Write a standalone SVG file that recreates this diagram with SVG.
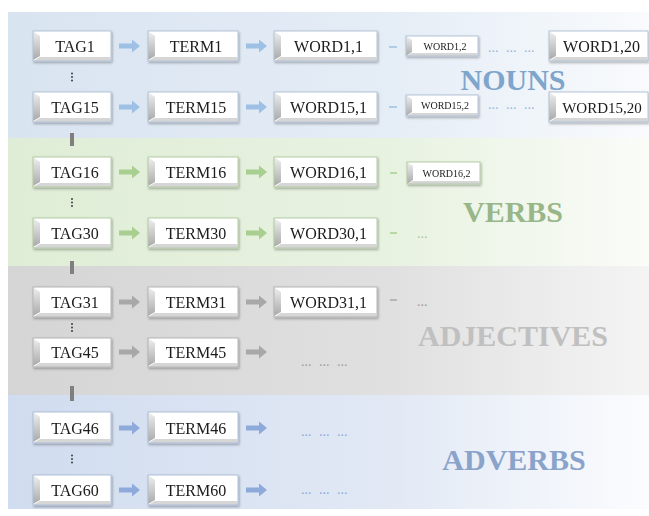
<svg xmlns="http://www.w3.org/2000/svg" xmlns:xlink="http://www.w3.org/1999/xlink" width="649" height="516" viewBox="0 0 649 516">
<style>
.t{font-family:"Liberation Serif","Times New Roman",serif;font-size:16px;fill:#1a1a1a;text-anchor:middle}
.ts{font-family:"Liberation Serif","Times New Roman",serif;font-size:10px;fill:#1a1a1a;text-anchor:middle}
.lab{font-family:"Liberation Serif","Times New Roman",serif;font-size:30px;font-weight:bold;text-anchor:middle}
.dots{font-family:"Liberation Serif","Times New Roman",serif;font-size:14px;word-spacing:4px}
.face{fill:#ffffff}
.bl{fill:url(#gBev)}
.bb{fill:#d6d6d6}
.edge{fill:none;stroke-width:1}
.n .edge{stroke:#b3c4d8}
.v .edge{stroke:#b4cda6}
.j .edge{stroke:#b5b5b5}
.d .edge{stroke:#b0bfd8}
.node{filter:url(#sh)}
.an{fill:#9dc0e4}
.av{fill:#a8cf8f}
.aj{fill:#a8a8a8}
.ad{fill:#8eaadb}
.dn{stroke:#9dc0e4;stroke-width:1.5}
.dv{stroke:#a8cf8f;stroke-width:1.5}
.dj{stroke:#9a9a9a;stroke-width:1.2}
.bar{fill:#7f7f7f}
.vd{fill:#404040}
</style>
<defs>
<linearGradient id="gN" x1="0" y1="0" x2="1" y2="0"><stop offset="0" stop-color="#d9e4f1"/><stop offset="0.6" stop-color="#e5edf6"/><stop offset="1" stop-color="#f9fbfd"/></linearGradient>
<linearGradient id="gV" x1="0" y1="0" x2="1" y2="0"><stop offset="0" stop-color="#dfedd6"/><stop offset="0.6" stop-color="#e8f2e1"/><stop offset="1" stop-color="#fafcf8"/></linearGradient>
<linearGradient id="gJ" x1="0" y1="0" x2="1" y2="0"><stop offset="0" stop-color="#d5d5d5"/><stop offset="0.6" stop-color="#e0e0e0"/><stop offset="1" stop-color="#f4f4f4"/></linearGradient>
<linearGradient id="gD" x1="0" y1="0" x2="1" y2="0"><stop offset="0" stop-color="#d0dcef"/><stop offset="0.6" stop-color="#e2e9f5"/><stop offset="1" stop-color="#fbfcfe"/></linearGradient>
<linearGradient id="gBev" x1="0" y1="0" x2="0" y2="1"><stop offset="0" stop-color="#efefef"/><stop offset="1" stop-color="#a9a9a9"/></linearGradient>
<filter id="sh" x="-10%" y="-20%" width="125%" height="150%"><feDropShadow dx="1" dy="1.5" stdDeviation="1" flood-color="#000" flood-opacity="0.3"/></filter>
<path id="arr" d="M0,-2.5 H13 V-6.5 L21,0 L13,6.5 V2.5 H0 Z"/>
</defs>

<g id="bands">
<rect x="8" y="12" width="641" height="126" fill="url(#gN)"/>
<rect x="8" y="138" width="641" height="128" fill="url(#gV)"/>
<rect x="8" y="266" width="641" height="129" fill="url(#gJ)"/>
<rect x="8" y="395" width="641" height="114" fill="url(#gD)"/>
</g>

<g id="labels">
<text class="lab" x="513" y="90" fill="#7ea5cb">NOUNS</text>
<text class="lab" x="513" y="222" fill="#98b688">VERBS</text>
<text class="lab" x="513" y="346" fill="#c0c0c0">ADJECTIVES</text>
<text class="lab" x="514" y="470" fill="#8aa3cb">ADVERBS</text>
</g>

<g id="connectors">
<use href="#arr" x="119" y="46" class="an"/><use href="#arr" x="246" y="46" class="an"/>
<use href="#arr" x="119" y="107" class="an"/><use href="#arr" x="246" y="107" class="an"/>
<use href="#arr" x="119" y="172" class="av"/><use href="#arr" x="246" y="172" class="av"/>
<use href="#arr" x="119" y="233" class="av"/><use href="#arr" x="246" y="233" class="av"/>
<use href="#arr" x="119" y="302" class="aj"/><use href="#arr" x="246" y="302" class="aj"/>
<use href="#arr" x="119" y="352" class="aj"/><use href="#arr" x="246" y="352" class="aj"/>
<use href="#arr" x="119" y="428" class="ad"/><use href="#arr" x="246" y="428" class="ad"/>
<use href="#arr" x="119" y="490" class="ad"/><use href="#arr" x="246" y="490" class="ad"/>
<line class="dn" x1="389" y1="47" x2="397" y2="47"/>
<line class="dn" x1="389" y1="107" x2="397" y2="107"/>
<line class="dv" x1="390" y1="173" x2="397" y2="173"/>
<line class="dv" x1="390" y1="233" x2="397" y2="233"/>
<line class="dj" x1="390" y1="300" x2="397" y2="300"/>
<rect class="bar" x="70" y="133" width="4" height="13"/>
<rect class="bar" x="70" y="261" width="4" height="13"/>
<rect class="bar" x="70" y="386" width="4" height="15"/>
<g class="vd">
<circle cx="72" cy="73.5" r="1"/><circle cx="72" cy="77" r="1"/><circle cx="72" cy="80.5" r="1"/>
<circle cx="72" cy="199" r="1"/><circle cx="72" cy="202.5" r="1"/><circle cx="72" cy="206" r="1"/>
<circle cx="72" cy="324" r="1"/><circle cx="72" cy="327.5" r="1"/><circle cx="72" cy="331" r="1"/>
<circle cx="72" cy="455.5" r="1"/><circle cx="72" cy="459" r="1"/><circle cx="72" cy="462.5" r="1"/>
</g>
</g>

<g id="ellipses">
<text class="dots" x="488" y="52" fill="#9bb7d8">... ... ...</text>
<text class="dots" x="488" y="109" fill="#9bb7d8">... ... ...</text>
<text class="dots" x="417" y="238" fill="#a8c999">...</text>
<text class="dots" x="417" y="306" fill="#9a9a9a">...</text>
<text class="dots" x="301" y="366" fill="#a0a0a0">... ... ...</text>
<text class="dots" x="301" y="436" fill="#8eaadb">... ... ...</text>
<text class="dots" x="301" y="494" fill="#8eaadb">... ... ...</text>
</g>

<!-- NOUNS -->
<g id="tag1" class="node n"><rect class="face" x="33" y="31" width="78" height="30"/><path class="bl" d="M33,31 l7,5 v20 l-7,4 z"/><path class="bb" d="M33,61 l7,-4 h70 l1,4 z"/><rect class="edge" x="33" y="31" width="78" height="30"/><text class="t" x="75" y="52">TAG1</text></g>
<g id="term1" class="node n"><rect class="face" x="148" y="31" width="90" height="30"/><path class="bl" d="M148,31 l7,5 v20 l-7,4 z"/><path class="bb" d="M148,61 l7,-4 h82 l1,4 z"/><rect class="edge" x="148" y="31" width="90" height="30"/><text class="t" x="196" y="52">TERM1</text></g>
<g id="word1_1" class="node n"><rect class="face" x="274" y="31" width="103" height="30"/><path class="bl" d="M274,31 l7,5 v20 l-7,4 z"/><path class="bb" d="M274,61 l7,-4 h95 l1,4 z"/><rect class="edge" x="274" y="31" width="103" height="30"/><text class="t" x="328.5" y="52">WORD1,1</text></g>
<g id="word1_2" class="node n"><rect class="face" x="406" y="36" width="72" height="20"/><path class="bl" d="M406,36 l6,4 v12 l-6,4 z"/><path class="bb" d="M406,56 l6,-3 h65 l1,3 z"/><rect class="edge" x="406" y="36" width="72" height="20"/><text class="ts" x="445" y="49.5">WORD1,2</text></g>
<g id="word1_20" class="node n"><rect class="face" x="549" y="31" width="99" height="30"/><path class="bl" d="M549,31 l7,5 v20 l-7,4 z"/><path class="bb" d="M549,61 l7,-4 h91 l1,4 z"/><rect class="edge" x="549" y="31" width="99" height="30"/><text class="t" x="601.5" y="52">WORD1,20</text></g>

<g id="tag15" class="node n"><rect class="face" x="33" y="92" width="78" height="30"/><path class="bl" d="M33,92 l7,5 v20 l-7,4 z"/><path class="bb" d="M33,122 l7,-4 h70 l1,4 z"/><rect class="edge" x="33" y="92" width="78" height="30"/><text class="t" x="75" y="113">TAG15</text></g>
<g id="term15" class="node n"><rect class="face" x="148" y="92" width="90" height="30"/><path class="bl" d="M148,92 l7,5 v20 l-7,4 z"/><path class="bb" d="M148,122 l7,-4 h82 l1,4 z"/><rect class="edge" x="148" y="92" width="90" height="30"/><text class="t" x="196" y="113">TERM15</text></g>
<g id="word15_1" class="node n"><rect class="face" x="274" y="92" width="103" height="30"/><path class="bl" d="M274,92 l7,5 v20 l-7,4 z"/><path class="bb" d="M274,122 l7,-4 h95 l1,4 z"/><rect class="edge" x="274" y="92" width="103" height="30"/><text class="t" x="328.5" y="113">WORD15,1</text></g>
<g id="word15_2" class="node n"><rect class="face" x="406" y="95" width="72" height="21"/><path class="bl" d="M406,95 l6,4 v13 l-6,4 z"/><path class="bb" d="M406,116 l6,-3 h65 l1,3 z"/><rect class="edge" x="406" y="95" width="72" height="21"/><text class="ts" x="445" y="109">WORD15,2</text></g>
<g id="word15_20" class="node n"><rect class="face" x="549" y="92" width="99" height="30"/><path class="bl" d="M549,92 l7,5 v20 l-7,4 z"/><path class="bb" d="M549,122 l7,-4 h91 l1,4 z"/><rect class="edge" x="549" y="92" width="99" height="30"/><text class="t" x="602" y="113" style="font-size:15px">WORD15,20</text></g>

<!-- VERBS -->
<g id="tag16" class="node v"><rect class="face" x="33" y="157" width="78" height="30"/><path class="bl" d="M33,157 l7,5 v20 l-7,4 z"/><path class="bb" d="M33,187 l7,-4 h70 l1,4 z"/><rect class="edge" x="33" y="157" width="78" height="30"/><text class="t" x="75" y="178">TAG16</text></g>
<g id="term16" class="node v"><rect class="face" x="148" y="157" width="90" height="30"/><path class="bl" d="M148,157 l7,5 v20 l-7,4 z"/><path class="bb" d="M148,187 l7,-4 h82 l1,4 z"/><rect class="edge" x="148" y="157" width="90" height="30"/><text class="t" x="196" y="178">TERM16</text></g>
<g id="word16_1" class="node v"><rect class="face" x="274" y="157" width="103" height="30"/><path class="bl" d="M274,157 l7,5 v20 l-7,4 z"/><path class="bb" d="M274,187 l7,-4 h95 l1,4 z"/><rect class="edge" x="274" y="157" width="103" height="30"/><text class="t" x="328.5" y="178">WORD16,1</text></g>
<g id="word16_2" class="node v"><rect class="face" x="407" y="162" width="73" height="22"/><path class="bl" d="M407,162 l6,4 v14 l-6,4 z"/><path class="bb" d="M407,184 l6,-3 h66 l1,3 z"/><rect class="edge" x="407" y="162" width="73" height="22"/><text class="ts" x="446.5" y="176.5">WORD16,2</text></g>

<g id="tag30" class="node v"><rect class="face" x="33" y="218" width="78" height="30"/><path class="bl" d="M33,218 l7,5 v20 l-7,4 z"/><path class="bb" d="M33,248 l7,-4 h70 l1,4 z"/><rect class="edge" x="33" y="218" width="78" height="30"/><text class="t" x="75" y="239">TAG30</text></g>
<g id="term30" class="node v"><rect class="face" x="148" y="218" width="90" height="30"/><path class="bl" d="M148,218 l7,5 v20 l-7,4 z"/><path class="bb" d="M148,248 l7,-4 h82 l1,4 z"/><rect class="edge" x="148" y="218" width="90" height="30"/><text class="t" x="196" y="239">TERM30</text></g>
<g id="word30_1" class="node v"><rect class="face" x="274" y="218" width="103" height="30"/><path class="bl" d="M274,218 l7,5 v20 l-7,4 z"/><path class="bb" d="M274,248 l7,-4 h95 l1,4 z"/><rect class="edge" x="274" y="218" width="103" height="30"/><text class="t" x="328.5" y="239">WORD30,1</text></g>

<!-- ADJECTIVES -->
<g id="tag31" class="node j"><rect class="face" x="33" y="287" width="78" height="30"/><path class="bl" d="M33,287 l7,5 v20 l-7,4 z"/><path class="bb" d="M33,317 l7,-4 h70 l1,4 z"/><rect class="edge" x="33" y="287" width="78" height="30"/><text class="t" x="75" y="308">TAG31</text></g>
<g id="term31" class="node j"><rect class="face" x="148" y="287" width="90" height="30"/><path class="bl" d="M148,287 l7,5 v20 l-7,4 z"/><path class="bb" d="M148,317 l7,-4 h82 l1,4 z"/><rect class="edge" x="148" y="287" width="90" height="30"/><text class="t" x="196" y="308">TERM31</text></g>
<g id="word31_1" class="node j"><rect class="face" x="274" y="287" width="103" height="30"/><path class="bl" d="M274,287 l7,5 v20 l-7,4 z"/><path class="bb" d="M274,317 l7,-4 h95 l1,4 z"/><rect class="edge" x="274" y="287" width="103" height="30"/><text class="t" x="328.5" y="308">WORD31,1</text></g>

<g id="tag45" class="node j"><rect class="face" x="33" y="338" width="78" height="29"/><path class="bl" d="M33,338 l7,5 v19 l-7,4 z"/><path class="bb" d="M33,367 l7,-4 h70 l1,4 z"/><rect class="edge" x="33" y="338" width="78" height="29"/><text class="t" x="75" y="358">TAG45</text></g>
<g id="term45" class="node j"><rect class="face" x="148" y="338" width="90" height="29"/><path class="bl" d="M148,338 l7,5 v19 l-7,4 z"/><path class="bb" d="M148,367 l7,-4 h82 l1,4 z"/><rect class="edge" x="148" y="338" width="90" height="29"/><text class="t" x="196" y="358">TERM45</text></g>

<!-- ADVERBS -->
<g id="tag46" class="node d"><rect class="face" x="33" y="412" width="78" height="31"/><path class="bl" d="M33,412 l7,5 v21 l-7,4 z"/><path class="bb" d="M33,443 l7,-4 h70 l1,4 z"/><rect class="edge" x="33" y="412" width="78" height="31"/><text class="t" x="75" y="434">TAG46</text></g>
<g id="term46" class="node d"><rect class="face" x="148" y="412" width="90" height="31"/><path class="bl" d="M148,412 l7,5 v21 l-7,4 z"/><path class="bb" d="M148,443 l7,-4 h82 l1,4 z"/><rect class="edge" x="148" y="412" width="90" height="31"/><text class="t" x="196" y="434">TERM46</text></g>

<g id="tag60" class="node d"><rect class="face" x="33" y="475" width="78" height="30"/><path class="bl" d="M33,475 l7,5 v20 l-7,4 z"/><path class="bb" d="M33,505 l7,-4 h70 l1,4 z"/><rect class="edge" x="33" y="475" width="78" height="30"/><text class="t" x="75" y="496">TAG60</text></g>
<g id="term60" class="node d"><rect class="face" x="148" y="475" width="90" height="30"/><path class="bl" d="M148,475 l7,5 v20 l-7,4 z"/><path class="bb" d="M148,505 l7,-4 h82 l1,4 z"/><rect class="edge" x="148" y="475" width="90" height="30"/><text class="t" x="196" y="496">TERM60</text></g>
</svg>
